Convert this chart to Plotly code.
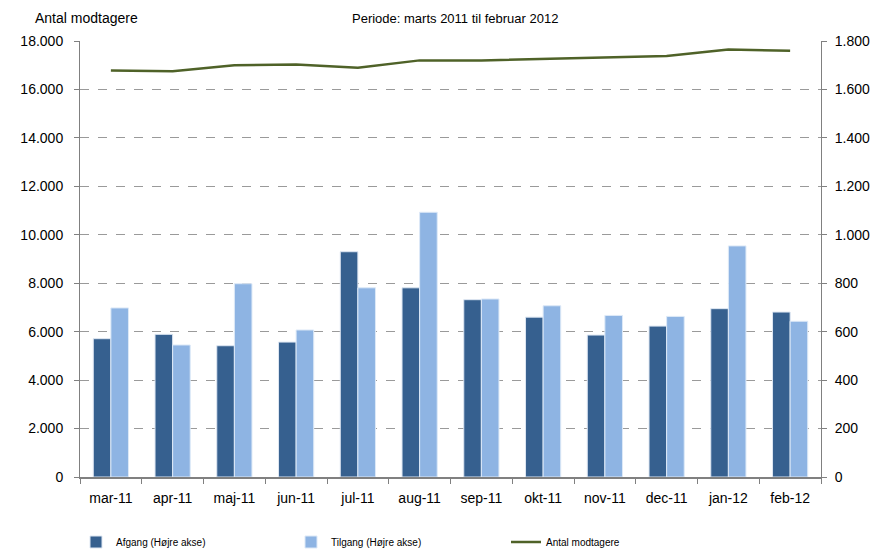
import plotly.graph_objects as go

months = ["mar-11", "apr-11", "maj-11", "jun-11", "jul-11", "aug-11",
          "sep-11", "okt-11", "nov-11", "dec-11", "jan-12", "feb-12"]
afgang = [571, 589, 542, 557, 930, 781, 732, 660, 586, 623, 695, 681]
tilgang = [698, 545, 798, 607, 781, 1093, 735, 707, 667, 663, 954, 643]
antal = [16780, 16750, 17000, 17030, 16900, 17200, 17200, 17270, 17330, 17380, 17650, 17600]

left_ticks = list(range(0, 18001, 2000))
right_ticks = list(range(0, 1801, 200))

FONT = "Liberation Sans, Arial, sans-serif"
# the page body has an 8px margin, so the figure is drawn 8px in from the top-left
W, H = 871, 541

fig = go.Figure()
fig.add_trace(go.Bar(x=months, y=afgang, name="Afgang (Højre akse)", yaxis="y2",
                     marker=dict(color="#36608F", line=dict(color="#dde6f2", width=1))))
fig.add_trace(go.Bar(x=months, y=tilgang, name="Tilgang (Højre akse)", yaxis="y2",
                     marker=dict(color="#8EB4E3", line=dict(color="#dde9f7", width=1))))
fig.add_trace(go.Scatter(x=months, y=antal, name="Antal modtagere", mode="lines",
                         line=dict(color="#4F6228", width=2.5)))

fig.update_layout(
    width=W, height=H,
    margin=dict(l=72, r=58, t=33, b=72, autoexpand=False),
    paper_bgcolor="white", plot_bgcolor="white",
    separators=",.",
    font=dict(family=FONT, size=14, color="black"),
    barmode="group", bargap=0.43, bargroupgap=0.0,
    showlegend=True,
    legend=dict(orientation="h", xref="container", yref="container",
                x=68 / W, y=1 - 534 / H, xanchor="left", yanchor="middle",
                entrywidth=170, entrywidthmode="pixels",
                font=dict(size=10, family=FONT), traceorder="normal",
                itemwidth=30),
    xaxis=dict(showline=True, linecolor="#808080", linewidth=1.5,
               ticks="outside", tickson="boundaries", ticklen=5, tickcolor="#808080",
               tickfont=dict(size=14), showgrid=False, automargin=False,
               ticklabelstandoff=7),
    yaxis=dict(range=[0, 18000], tickvals=left_ticks, tickformat=",.0f",
               showline=True, linecolor="#808080", linewidth=1,
               ticks="outside", ticklen=5, tickcolor="#808080",
               showgrid=True, gridcolor="#9a9a9a", griddash="dash", gridwidth=1,
               zeroline=False, tickfont=dict(size=14), automargin=False,
               ticklabelstandoff=8),
    yaxis2=dict(range=[0, 1800], tickvals=right_ticks, tickformat=",.0f",
                overlaying="y", side="right",
                showline=True, linecolor="#808080", linewidth=1,
                ticks="outside", ticklen=5, tickcolor="#808080",
                showgrid=False, zeroline=False, tickfont=dict(size=14), automargin=False,
                ticklabelstandoff=5),
    annotations=[
        dict(text="Antal modtagere", xref="paper", yref="paper",
             x=-47 / 741, y=1 + 23 / 436, xanchor="left", yanchor="middle",
             showarrow=False, font=dict(size=14)),
        dict(text="Periode: marts 2011 til februar 2012", xref="paper", yref="paper",
             x=(455 - 80) / 741, y=1 + 23 / 436, xanchor="center", yanchor="middle",
             showarrow=False, font=dict(size=13)),
    ],
)

fig.write_html("out.html")
